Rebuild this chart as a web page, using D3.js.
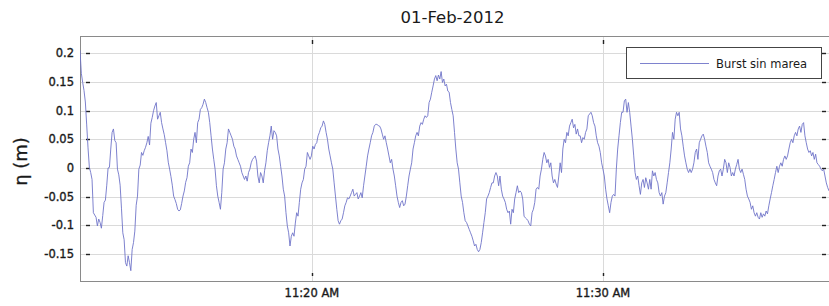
<!DOCTYPE html>
<html>
<head>
<meta charset="utf-8">
<script src="https://cdn.jsdelivr.net/npm/d3@7"></script>
<style>
  html, body { margin: 0; padding: 0; background: #fff; }
  svg { display: block; }
  text { font-family: "DejaVu Sans", sans-serif; fill: #1a1a1a; }
  .tick-label { stroke: #1a1a1a; stroke-width: 0.35px; }
</style>
</head>
<body>
<svg id="chart" width="829" height="306"></svg>
<script>
// ---- data ----
const chartTitle = "01-Feb-2012";
const yLabel = "η (m)";
const seriesName = "Burst sin marea";
const startTime = "2012-02-01T11:12:02";
const stepSeconds = 2.757;
const eta = [
  0.205, 0.165, 0.149, 0.135, 0.115, 0.075, 0.035, 0.001, -0.008, -0.020,
  -0.078, -0.082, -0.086, -0.101, -0.089, -0.095, -0.105, -0.083, -0.060, -0.056,
  -0.030, 0.000, 0.001, 0.033, 0.062, 0.068, 0.048, 0.044, -0.002, -0.012,
  -0.030, -0.070, -0.113, -0.125, -0.165, -0.171, -0.153, -0.165, -0.179, -0.142,
  -0.130, -0.110, -0.065, -0.049, -0.002, 0.005, 0.027, 0.022, 0.030, 0.036,
  0.044, 0.055, 0.040, 0.078, 0.088, 0.100, 0.108, 0.114, 0.085, 0.091,
  0.097, 0.079, 0.068, 0.058, 0.044, 0.030, 0.010, -0.002, -0.015, -0.030,
  -0.049, -0.055, -0.062, -0.072, -0.075, -0.073, -0.062, -0.049, -0.040, -0.025,

  -0.017, 0.003, 0.009, 0.033, 0.027, 0.050, 0.062, 0.044, 0.079, 0.085,
  0.102, 0.105, 0.111, 0.120, 0.114, 0.105, 0.097, 0.079, 0.056, 0.033,
  0.015, -0.002, -0.031, -0.049, -0.060, -0.072, -0.043, -0.002, 0.009, 0.033,
  0.044, 0.068, 0.062, 0.056, 0.050, 0.038, 0.033, 0.021, 0.015, 0.009,
  0.003, -0.008, -0.014, -0.020, -0.014, -0.023, -0.008, -0.002, 0.009, 0.015,
  0.018, 0.021, 0.012, -0.014, -0.026, -0.008, -0.014, -0.026, -0.005, 0.009,
  0.030, 0.044, 0.056, 0.073, 0.050, 0.065, 0.062, 0.056, 0.033, 0.021,
  0.003, -0.014, -0.037, -0.049, -0.078, -0.101, -0.113, -0.136, -0.119, -0.113,

  -0.119, -0.096, -0.078, -0.084, -0.060, -0.037, -0.026, -0.020, -0.002, 0.003,
  0.027, 0.021, 0.015, 0.021, 0.038, 0.033, 0.041, 0.044, 0.056, 0.062,
  0.070, 0.073, 0.082, 0.076, 0.062, 0.050, 0.033, 0.021, 0.009, -0.002,
  -0.026, -0.049, -0.072, -0.092, -0.098, -0.092, -0.089, -0.078, -0.066, -0.060,
  -0.052, -0.054, -0.049, -0.043, -0.037, -0.049, -0.046, -0.043, -0.054, -0.049,
  -0.043, -0.052, -0.031, -0.014, 0.003, 0.021, 0.033, 0.044, 0.056, 0.062,
  0.073, 0.076, 0.076, 0.074, 0.073, 0.068, 0.059, 0.050, 0.056, 0.044,
  0.033, 0.021, 0.009, 0.015, -0.002, -0.014, -0.031, -0.049, -0.060, -0.069,

  -0.060, -0.057, -0.066, -0.063, -0.049, -0.031, -0.014, -0.002, 0.009, 0.033,
  0.044, 0.056, 0.062, 0.056, 0.073, 0.079, 0.076, 0.085, 0.091, 0.088,
  0.091, 0.114, 0.120, 0.132, 0.143, 0.155, 0.161, 0.152, 0.162, 0.155,
  0.168, 0.149, 0.155, 0.143, 0.146, 0.134, 0.132, 0.114, 0.102, 0.091,
  0.062, 0.033, 0.009, -0.002, -0.026, -0.049, -0.060, -0.078, -0.092, -0.095,
  -0.101, -0.107, -0.113, -0.119, -0.127, -0.136, -0.133, -0.142, -0.146, -0.142,
  -0.130, -0.113, -0.095, -0.078, -0.054, -0.049, -0.043, -0.034, -0.026, -0.026,
  -0.014, -0.008, -0.014, -0.031, -0.014, -0.037, -0.049, -0.054, -0.060, -0.072,

  -0.078, -0.075, -0.098, -0.072, -0.078, -0.054, -0.043, -0.031, -0.043, -0.040,
  -0.043, -0.054, -0.084, -0.087, -0.089, -0.092, -0.098, -0.101, -0.078, -0.072,
  -0.060, -0.037, -0.034, -0.037, -0.014, -0.002, 0.015, 0.027, 0.021, 0.009,
  0.015, 0.001, 0.009, -0.014, -0.026, -0.020, -0.028, -0.034, -0.014, 0.009,
  -0.008, 0.033, 0.050, 0.044, 0.062, 0.056, 0.073, 0.079, 0.085, 0.070,
  0.076, 0.059, 0.068, 0.056, 0.056, 0.044, 0.053, 0.050, 0.062, 0.068,
  0.091, 0.094, 0.097, 0.091, 0.079, 0.073, 0.056, 0.044, 0.038, 0.027,
  0.009, -0.002, -0.014, -0.037, -0.054, -0.066, -0.078, -0.060, -0.049, -0.046,

  -0.049, -0.002, 0.033, 0.056, 0.079, 0.097, 0.097, 0.117, 0.120, 0.097,
  0.114, 0.097, 0.073, 0.050, 0.021, -0.008, -0.020, -0.014, -0.031, -0.046,
  -0.026, -0.020, -0.034, -0.017, -0.026, -0.037, -0.020, -0.037, -0.005, -0.014,
  -0.008, -0.020, -0.026, -0.043, -0.049, -0.043, -0.063, -0.049, -0.043, -0.026,
  -0.008, 0.009, 0.033, 0.062, 0.050, 0.085, 0.097, 0.091, 0.097, 0.068,
  0.056, 0.038, 0.021, 0.009, -0.002, -0.008, -0.002, -0.008, -0.002, 0.009,
  0.027, 0.033, 0.015, 0.044, 0.050, 0.056, 0.059, 0.050, 0.038, 0.027,
  0.009, 0.003, -0.002, -0.008, -0.020, -0.026, -0.031, -0.014, -0.005, -0.002,

  -0.014, -0.002, 0.015, 0.009, -0.008, 0.009, 0.001, -0.014, -0.008, -0.014,
  -0.002, 0.006, 0.015, -0.002, -0.008, -0.002, -0.011, -0.020, -0.037, -0.049,
  -0.054, -0.060, -0.072, -0.066, -0.078, -0.084, -0.078, -0.086, -0.089, -0.078,
  -0.086, -0.080, -0.084, -0.075, -0.080, -0.066, -0.054, -0.043, -0.031, -0.020,
  -0.008, 0.003, -0.008, 0.003, 0.009, 0.003, 0.015, 0.021, 0.015, 0.021,
  0.033, 0.044, 0.050, 0.044, 0.056, 0.062, 0.056, 0.068, 0.073, 0.062,
  0.076, 0.079, 0.056, 0.044, 0.033, 0.027, 0.030, 0.021, 0.027, 0.015,
  0.024, 0.009, 0.006, 0.003, -0.002, -0.005, -0.002, -0.014, -0.026, -0.034,
  -0.040
];
const yDomain = [-0.197, 0.230];
const yTicks = [-0.15, -0.1, -0.05, 0, 0.05, 0.1, 0.15, 0.2];
const yTickLabels = ["-0.15", "-0.1", "-0.05", "0", "0.05", "0.1", "0.15", "0.2"];
const xTickTimes = ["2012-02-01T11:20:00", "2012-02-01T11:30:00"];
const xTickLabels = ["11:20 AM", "11:30 AM"];

// ---- layout ----
const M = { left: 80, top: 36, right: 829, bottom: 281 };
const t0 = new Date(startTime);
const data = eta.map((v, i) => ({ t: new Date(t0.getTime() + i * stepSeconds * 1000), v }));

const svg = d3.select("#chart");
const x = d3.scaleTime()
  .domain([data[0].t, data[data.length - 1].t])
  .range([M.left, M.right]);
const y = d3.scaleLinear().domain(yDomain).range([M.bottom, M.top]);
const xTicks = xTickTimes.map(s => new Date(s));

// background
svg.append("rect").attr("x", M.left).attr("y", M.top)
  .attr("width", M.right - M.left).attr("height", M.bottom - M.top)
  .attr("fill", "#fff");

// grid
const grid = svg.append("g").attr("stroke", "#dadada").attr("stroke-width", 1);
grid.selectAll("line.h").data(yTicks).join("line").attr("class", "h")
  .attr("x1", M.left).attr("x2", M.right)
  .attr("y1", d => Math.round(y(d)) + 0.5).attr("y2", d => Math.round(y(d)) + 0.5);
grid.selectAll("line.v").data(xTicks).join("line").attr("class", "v")
  .attr("y1", M.top).attr("y2", M.bottom)
  .attr("x1", d => Math.round(x(d)) + 0.5).attr("x2", d => Math.round(x(d)) + 0.5);

// axis frame
svg.append("rect").attr("x", M.left + 0.5).attr("y", M.top + 0.5)
  .attr("width", M.right - M.left).attr("height", M.bottom - M.top)
  .attr("fill", "none").attr("stroke", "#8a8a8a").attr("stroke-width", 1);

// tick marks (inside)
const tk = svg.append("g").attr("stroke", "#222").attr("stroke-width", 1.4);
tk.selectAll("line.yl").data(yTicks).join("line")
  .attr("x1", M.left + 6).attr("x2", M.left + 10)
  .attr("y1", d => Math.round(y(d)) + 0.5).attr("y2", d => Math.round(y(d)) + 0.5);
tk.selectAll("line.yr").data(yTicks).join("line")
  .attr("x1", M.right - 7).attr("x2", M.right - 3)
  .attr("y1", d => Math.round(y(d)) + 0.5).attr("y2", d => Math.round(y(d)) + 0.5);
tk.selectAll("line.xt").data(xTicks).join("line")
  .attr("x1", d => Math.round(x(d)) + 0.5).attr("x2", d => Math.round(x(d)) + 0.5)
  .attr("y1", M.top + 4).attr("y2", M.top + 8);
tk.selectAll("line.xb").data(xTicks).join("line")
  .attr("x1", d => Math.round(x(d)) + 0.5).attr("x2", d => Math.round(x(d)) + 0.5)
  .attr("y1", M.bottom - 8).attr("y2", M.bottom - 5);

// clip
svg.append("clipPath").attr("id", "clip").append("rect")
  .attr("x", M.left).attr("y", M.top)
  .attr("width", M.right - M.left).attr("height", M.bottom - M.top);

// line
const line = d3.line().x(d => x(d.t)).y(d => y(d.v));
svg.append("path").datum(data)
  .attr("clip-path", "url(#clip)")
  .attr("fill", "none").attr("stroke", "#6f74c8").attr("stroke-width", 0.9)
  .attr("stroke-linejoin", "round")
  .attr("d", line);

// y tick labels
svg.append("g").selectAll("text").data(yTicks).join("text")
  .attr("class", "tick-label")
  .attr("x", M.left - 6).attr("y", d => y(d))
  .attr("dy", "0.36em").attr("text-anchor", "end")
  .attr("font-size", 11.5)
  .text((d, i) => yTickLabels[i]);

// x tick labels
svg.append("g").selectAll("text").data(xTicks).join("text")
  .attr("class", "tick-label")
  .attr("x", d => x(d)).attr("y", M.bottom + 16)
  .attr("text-anchor", "middle").attr("font-size", 11.5)
  .text((d, i) => xTickLabels[i]);

// title
svg.append("text").attr("x", (M.left + M.right) / 2 - 2).attr("y", 23)
  .attr("text-anchor", "middle").attr("font-size", 16.5)
  .text(chartTitle);

// y label
svg.append("text")
  .attr("transform", `translate(27, ${(M.top + M.bottom) / 2 + 3}) rotate(-90)`)
  .attr("text-anchor", "middle").attr("font-size", 18)
  .attr("stroke", "#1a1a1a").attr("stroke-width", 0.3)
  .text(yLabel);

// legend
const lg = svg.append("g");
lg.append("rect").attr("x", 626.5).attr("y", 47.5).attr("width", 195).attr("height", 31)
  .attr("fill", "#fff").attr("stroke", "#444").attr("stroke-width", 1);
lg.append("line").attr("x1", 640).attr("x2", 709).attr("y1", 63.5).attr("y2", 63.5)
  .attr("stroke", "#6f74c8").attr("stroke-width", 0.9);
lg.append("text").attr("x", 716).attr("y", 63.5).attr("dy", "0.36em")
  .attr("font-size", 11.5).text(seriesName);
</script>
</body>
</html>
